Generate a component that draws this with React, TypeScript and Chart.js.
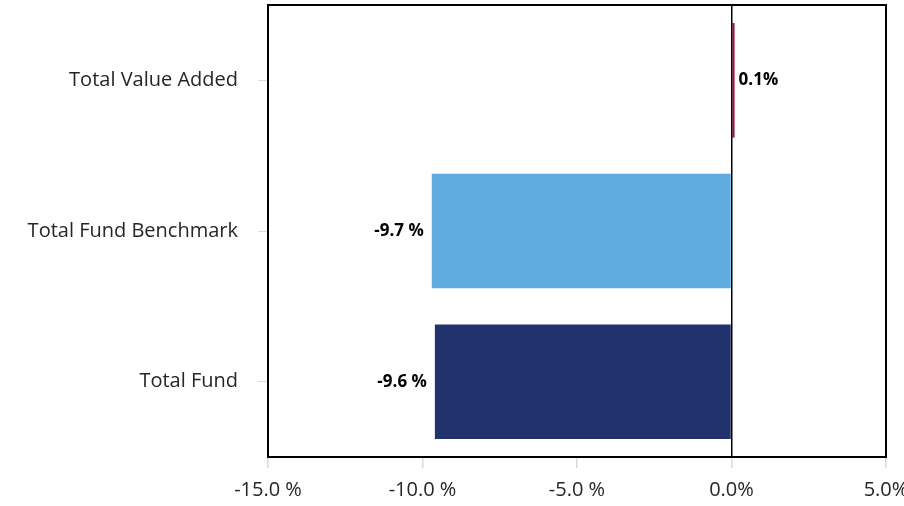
import React, { useEffect, useRef } from "react";
import { Chart, registerables } from "chart.js";

Chart.register(...registerables);

const categories = ["Total Value Added", "Total Fund Benchmark", "Total Fund"];
const values = [0.1, -9.7, -9.6];
const barColors = ["#8C1B3E", "#5FADE0", "#22326D"];
const xMin = -15;
const xMax = 5;
const xStep = 5;

const fmt = (v: number) => (v < 0 ? v.toFixed(1) + " %" : v.toFixed(1) + "%");

const framePlugin = {
  id: "frame",
  afterDraw(chart: any) {
    const { ctx, chartArea } = chart;
    ctx.save();
    ctx.strokeStyle = "#000";
    ctx.lineWidth = 2;
    ctx.strokeRect(chartArea.left, chartArea.top, chartArea.right - chartArea.left, chartArea.bottom - chartArea.top);
    ctx.restore();
  },
};

const labelPlugin = {
  id: "valueLabels",
  afterDatasetsDraw(chart: any) {
    const { ctx } = chart;
    const meta = chart.getDatasetMeta(0);
    ctx.save();
    ctx.font = "bold 17px 'Open Sans'";
    ctx.fillStyle = "#000";
    ctx.textBaseline = "middle";
    meta.data.forEach((el: any, i: number) => {
      const v = values[i];
      const txt = fmt(v);
      if (v < 0) {
        ctx.textAlign = "right";
        ctx.fillText(txt, el.x - 8, el.y);
      } else {
        ctx.textAlign = "left";
        ctx.fillText(txt, el.x + 4, el.y);
      }
    });
    ctx.restore();
  },
};

export default function App() {
  const ref = useRef<HTMLCanvasElement | null>(null);
  useEffect(() => {
    document.body.style.margin = "0";
    const chart = new Chart(ref.current as HTMLCanvasElement, {
      type: "bar",
      data: {
        labels: categories,
        datasets: [
          {
            data: values,
            backgroundColor: barColors,
            borderWidth: 0,
            categoryPercentage: 1,
            barPercentage: 0.76,
          },
        ],
      },
      options: {
        indexAxis: "y",
        animation: false,
        responsive: false,
        maintainAspectRatio: false,
        layout: { padding: { top: 5, right: 18, left: 0, bottom: 0 } },
        plugins: { legend: { display: false }, tooltip: { enabled: false } },
        scales: {
          x: {
            min: xMin,
            max: xMax,
            ticks: {
              stepSize: xStep,
              callback: (v: any) => fmt(Number(v)),
              font: { family: "'Open Sans'", size: 20 },
              color: "#262626",
              padding: 10,
              maxRotation: 0,
            },
            grid: {
              color: (c: any) => (c.tick && c.tick.value === 0 ? "#000" : "rgba(0,0,0,0)"),
              lineWidth: 1.5,
              tickColor: "#d9d9d9",
              tickLength: 11,
              drawTicks: true,
            },
            border: { display: false },
            afterFit: (s: any) => {
              s.height = 49;
              s.paddingLeft = 0;
              s.paddingRight = 0;
            },
          },
          y: {
            ticks: {
              font: { family: "'Open Sans'", size: 20 },
              color: "#262626",
              padding: 20,
            },
            grid: {
              offset: false,
              drawOnChartArea: false,
              tickColor: "#d9d9d9",
              tickLength: 10,
            },
            border: { display: false },
            afterFit: (s: any) => {
              s.width = 268;
              s.paddingTop = 0;
              s.paddingBottom = 0;
            },
          },
        },
      },
      plugins: [labelPlugin, framePlugin],
    } as any);
    return () => chart.destroy();
  }, []);
  return (
    <div style={{ width: 904, height: 506, position: "relative" }}>
      <canvas ref={ref} width={904} height={506} style={{ width: 904, height: 506, display: "block" }} />
    </div>
  );
}
